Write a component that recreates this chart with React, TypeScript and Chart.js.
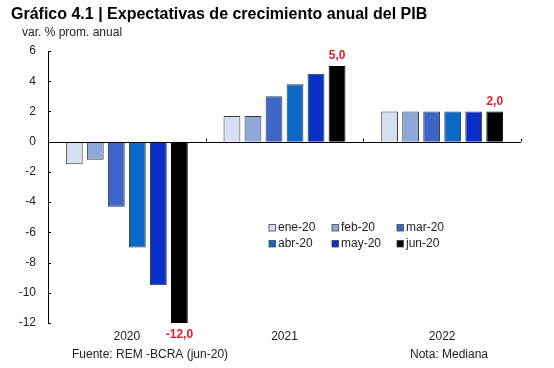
import React, { useEffect, useRef } from "react";
import { Chart, registerables } from "chart.js";

Chart.register(...registerables);

const categories = ["2020", "2021", "2022"];
const seriesLabels = ["ene-20", "feb-20", "mar-20", "abr-20", "may-20", "jun-20"];
const ene20 = [-1.5, 1.7, 2.0];
const feb20 = [-1.2, 1.7, 2.0];
const mar20 = [-4.3, 3.0, 2.0];
const abr20 = [-7.0, 3.8, 2.0];
const may20 = [-9.5, 4.5, 2.0];
const jun20 = [-12.0, 5.0, 2.0];
const seriesColors = ["#D6DFF0", "#8EA8D9", "#3D66C8", "#0A68C6", "#0A30C8", "#000000"];
const yTicks = [-12, -10, -8, -6, -4, -2, 0, 2, 4, 6];

const titleText = "Gráfico 4.1 | Expectativas de crecimiento anual del PIB";
const subtitleText = "var. % prom. anual";
const sourceText = "Fuente: REM -BCRA (jun-20)";
const noteText = "Nota: Mediana";

const FONT = "Arial, 'Liberation Sans', sans-serif";

const decorPlugin = {
  id: "decor",
  afterDatasetsDraw(chart: any) {
    const ctx = chart.ctx;
    const area = chart.chartArea;
    const ys = chart.scales.y;
    ctx.save();
    // zero line
    const y0 = ys.getPixelForValue(0);
    ctx.strokeStyle = "#000";
    ctx.lineWidth = 1;
    ctx.beginPath();
    ctx.moveTo(area.left, Math.round(y0) + 0.5);
    ctx.lineTo(area.right, Math.round(y0) + 0.5);
    ctx.stroke();
    // category ticks on zero line
    const n = categories.length;
    const w = (area.right - area.left) / n;
    for (let i = 1; i <= n; i++) {
      const x = Math.round(area.left + w * i) + 0.5;
      ctx.beginPath();
      ctx.moveTo(x, y0);
      ctx.lineTo(x, y0 - 3);
      ctx.stroke();
    }
    // y inner ticks
    for (const v of yTicks) {
      const y = Math.round(ys.getPixelForValue(v)) + 0.5;
      ctx.beginPath();
      ctx.moveTo(area.left, y);
      ctx.lineTo(area.left + 3, y);
      ctx.stroke();
    }
    // value labels for last series
    const lastIdx = chart.data.datasets.length - 1;
    const meta = chart.getDatasetMeta(lastIdx);
    const vals = chart.data.datasets[lastIdx].data as number[];
    ctx.fillStyle = "#E0202E";
    ctx.font = `bold 12px ${FONT}`;
    ctx.textAlign = "center";
    ctx.textBaseline = "middle";
    meta.data.forEach((bar: any, i: number) => {
      const v = vals[i];
      const txt = v.toFixed(1).replace(".", ",");
      if (v >= 0) ctx.fillText(txt, bar.x, bar.y - 10);
      else ctx.fillText(txt, bar.x, bar.y + 12);
    });
    // legend
    ctx.font = `12px ${FONT}`;
    ctx.textAlign = "left";
    const colX = [269, 332, 397];
    const rowY = [228, 244];
    chart.data.datasets.forEach((ds: any, i: number) => {
      const cx = colX[i % 3];
      const cy = rowY[Math.floor(i / 3)];
      ctx.fillStyle = ds.backgroundColor;
      ctx.fillRect(cx, cy - 3.5, 6.5, 6.5);
      ctx.strokeStyle = "#444";
      ctx.lineWidth = 0.8;
      ctx.strokeRect(cx, cy - 3.5, 6.5, 6.5);
      ctx.fillStyle = "#222";
      ctx.fillText(ds.label, cx + 9, cy);
    });
    // titles and footer
    ctx.fillStyle = "#000";
    ctx.font = `bold 16px ${FONT}`;
    ctx.textBaseline = "alphabetic";
    ctx.fillText(titleText, 11, 19);
    ctx.fillStyle = "#222";
    ctx.font = `12px ${FONT}`;
    ctx.textBaseline = "middle";
    ctx.fillText(subtitleText, 22, 33);
    ctx.fillText(sourceText, 72, 355);
    ctx.fillText(noteText, 410, 355);
    ctx.restore();
  },
};

export default function App() {
  const ref = useRef<HTMLCanvasElement>(null);
  useEffect(() => {
    if (!ref.current) return;
    const series = [ene20, feb20, mar20, abr20, may20, jun20];
    const chart = new Chart(ref.current, {
      type: "bar",
      data: {
        labels: categories,
        datasets: series.map((d, i) => ({
          label: seriesLabels[i],
          data: d,
          backgroundColor: seriesColors[i],
          borderColor: i === 5 ? "#000" : "#3a3a3a",
          borderWidth: 1,
          categoryPercentage: 0.8,
          barPercentage: 0.8,
        })),
      },
      options: {
        animation: false,
        responsive: false,
        maintainAspectRatio: false,
        layout: { padding: { left: 8, right: 33, top: 51, bottom: 25 } },
        plugins: {
          legend: { display: false },
          title: { display: false },
          tooltip: { enabled: false },
        },
        scales: {
          x: {
            grid: { display: false, drawTicks: false },
            border: { display: false },
            ticks: { color: "#222", font: { size: 12, family: FONT }, padding: 6 },
            afterFit: (s: any) => { s.height = 20; },
          },
          y: {
            min: -12,
            max: 6,
            afterBuildTicks: (s: any) => { s.ticks = yTicks.map((v) => ({ value: v })); },
            grid: { display: false, drawTicks: false },
            border: { display: true, color: "#000", width: 1 },
            ticks: { color: "#222", font: { size: 12, family: FONT }, padding: 12 },
            afterFit: (s: any) => { s.width = 40; },
          },
        },
      },
      plugins: [decorPlugin],
    });
    return () => chart.destroy();
  }, []);
  return (
    <div style={{ position: "fixed", left: 0, top: 0, width: 554, height: 368, background: "#fff" }}>
      <canvas ref={ref} width={554} height={368} style={{ width: 554, height: 368 }} />
    </div>
  );
}
